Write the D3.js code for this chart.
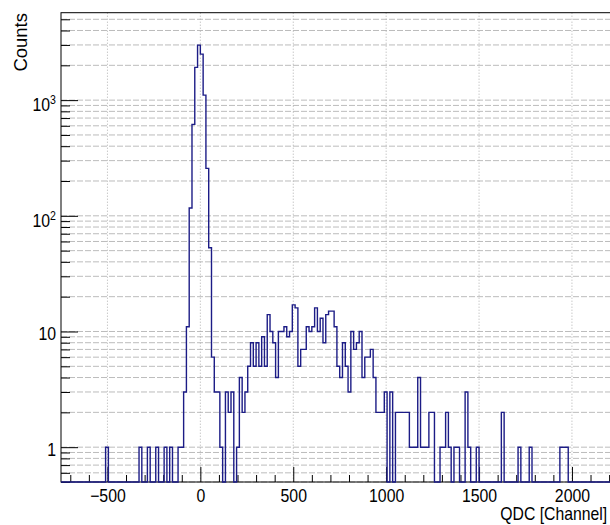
<!DOCTYPE html>
<html>
<head>
<meta charset="utf-8">
<script src="https://cdnjs.cloudflare.com/ajax/libs/d3/7.8.5/d3.min.js"></script>
<style>
  body { margin: 0; background: #fff; }
  svg { display: block; font-family: "Liberation Sans", Arial, sans-serif; }
</style>
</head>
<body>
<div id="chart_container"></div>
<script>
// QDC histogram, 15 channel bins starting at -750
var binStart = -750;
var binWidth = 15;
var counts = [
  0, 0, 0, 0, 0, 0, 0, 0, 0, 0,
  0, 0, 0, 0, 0, 0, 1, 0, 0, 0,
  0, 0, 0, 0, 0, 0, 0, 0, 1, 0,
  0, 1, 0, 0, 1, 0, 0, 1, 0, 1,
  0, 0, 1, 1, 3, 11, 117, 617, 1918, 2988,
  2500, 1105, 257, 53, 6, 3, 3, 1, 0, 3,
  2, 3, 0, 1, 4, 2, 3, 5, 8, 5,
  8, 5, 9, 5, 14, 10, 8, 4, 10, 10,
  11, 9, 10, 17, 16, 5, 7, 7, 11, 10,
  11, 16, 10, 13, 8, 14, 15, 15, 11, 5,
  4, 8, 5, 3, 10, 7, 8, 10, 4, 6,
  6, 7, 4, 2, 2, 2, 3, 0, 3, 0,
  2, 2, 2, 2, 2, 1, 1, 1, 4, 1,
  1, 1, 2, 2, 0, 0, 1, 1, 2, 1,
  0, 1, 1, 0, 0, 3, 1, 0, 0, 1,
  0, 0, 0, 0, 0, 0, 0, 0, 2, 0,
  0, 0, 0, 0, 1, 0, 0, 0, 1, 0,
  0, 0, 0, 0, 0, 0, 0, 0, 0, 1,
  1, 1, 0, 0, 0, 0, 0, 0, 0, 0,
  0, 0, 0, 0, 0, 0, 0, 0, 0, 0
];
var xMajorTicks = [-500, 0, 500, 1000, 1500, 2000];
var yMajorTicks = [1, 10, 100, 1000];
var yTickBase = ["1", "10", "10", "10"];
var yTickExp = ["", "", "2", "3"];
var xTitle = "QDC [Channel]";
var yTitle = "Counts";

var width = 610, height = 525;
var frame = {left: 61, top: 12.7, bottom: 482, right: 618.4};
var squeeze = 0.88;   // the original text is a little narrow

var svg = d3.select("#chart_container")
  .append("svg")
    .attr("width", width)
    .attr("height", height);

var x = d3.scaleLinear()
  .domain([binStart, binStart + counts.length * binWidth])
  .range([frame.left, frame.right]);
var y = d3.scaleLog()
  .domain([0.5, 5700])
  .range([frame.bottom, frame.top]);

// grid: dashed at every log tick, dotted at the major x ticks
var yAll = y.ticks();
svg.append("g").selectAll("line")
  .data(yAll)
  .enter().append("line")
    .attr("x1", frame.left).attr("x2", frame.right)
    .attr("y1", function(d) { return y(d); })
    .attr("y2", function(d) { return y(d); })
    .attr("stroke", "#bcbcbc")
    .attr("stroke-dasharray", "6,2");

svg.append("g").selectAll("line")
  .data(xMajorTicks)
  .enter().append("line")
    .attr("x1", function(d) { return x(d); })
    .attr("x2", function(d) { return x(d); })
    .attr("y1", frame.top).attr("y2", frame.bottom)
    .attr("stroke", "#b0b0b0")
    .attr("stroke-dasharray", "1,2");

// x axis (ticks point inward)
var xMinor = d3.range(-700, 2201, 100).filter(function(d) { return xMajorTicks.indexOf(d) < 0; });
svg.append("g")
  .attr("transform", "translate(0," + frame.bottom + ")")
  .call(d3.axisBottom(x).tickValues(xMinor).tickSize(-7).tickFormat(""))
  .call(function(g) { g.select(".domain").remove(); });

var xAxis = svg.append("g")
  .attr("transform", "translate(0," + frame.bottom + ")")
  .call(d3.axisBottom(x).tickValues(xMajorTicks).tickSize(-15).tickPadding(7.5)
    .tickFormat(function(d) { return d < 0 ? "\u2212" + Math.abs(d) : d; }));
xAxis.select(".domain").remove();
xAxis.selectAll("text")
  .attr("font-size", 18)
  .attr("fill", "#000")
  .attr("font-family", "Liberation Sans, Arial, sans-serif")
  .attr("transform", "scale(" + squeeze + ",1)");

// y axis
var yMinor = yAll.filter(function(d) { return yMajorTicks.indexOf(d) < 0; });
svg.append("g")
  .attr("transform", "translate(" + frame.left + ",0)")
  .call(d3.axisLeft(y).tickValues(yMinor).tickSize(-9).tickFormat(""))
  .call(function(g) { g.select(".domain").remove(); });

var yAxis = svg.append("g")
  .attr("transform", "translate(" + frame.left + ",0)")
  .call(d3.axisLeft(y).tickValues(yMajorTicks).tickSize(-17).tickPadding(5).tickFormat(""));
yAxis.select(".domain").remove();
yAxis.selectAll(".tick text").each(function(d, i) {
  var t = d3.select(this)
    .attr("x", -5 / squeeze)
    .attr("dy", yTickExp[i] ? "0.6em" : "0.45em")
    .attr("font-size", 18)
    .attr("fill", "#000")
    .attr("font-family", "Liberation Sans, Arial, sans-serif")
    .attr("transform", "scale(" + squeeze + ",1)");
  t.append("tspan").text(yTickBase[i]);
  if (yTickExp[i]) {
    t.append("tspan").attr("font-size", 12).attr("dy", -7).text(yTickExp[i]);
  }
});

// the histogram as a step line; empty bins sit on the bottom of the frame
var pts = [];
counts.forEach(function(c, i) {
  var x0 = binStart + i * binWidth;
  var yy = c > 0 ? y(c) : frame.bottom;
  pts.push([x(x0), yy]);
  pts.push([x(x0 + binWidth), yy]);
});

svg.append("clipPath").attr("id", "plotClip")
  .append("rect")
    .attr("x", frame.left).attr("y", frame.top)
    .attr("width", frame.right - frame.left)
    .attr("height", frame.bottom - frame.top + 1);

// frame
svg.append("rect")
  .attr("x", frame.left).attr("y", frame.top)
  .attr("width", frame.right - frame.left)
  .attr("height", frame.bottom - frame.top)
  .attr("fill", "none")
  .attr("stroke", "#000");

svg.append("path")
  .datum(pts)
  .attr("clip-path", "url(#plotClip)")
  .attr("fill", "none")
  .attr("stroke", "#1c1c86")
  .attr("stroke-width", 1.4)
  .attr("d", d3.line());

// axis titles
svg.append("text")
  .attr("transform", "translate(607,519.5) scale(0.9,1)")
  .attr("text-anchor", "end")
  .attr("font-size", 17.5)
  .text(xTitle);

svg.append("text")
  .attr("transform", "translate(27,13) scale(0.95,1) rotate(-90)")
  .attr("text-anchor", "end")
  .attr("font-size", 18.5)
  .text(yTitle);
</script>
</body>
</html>
